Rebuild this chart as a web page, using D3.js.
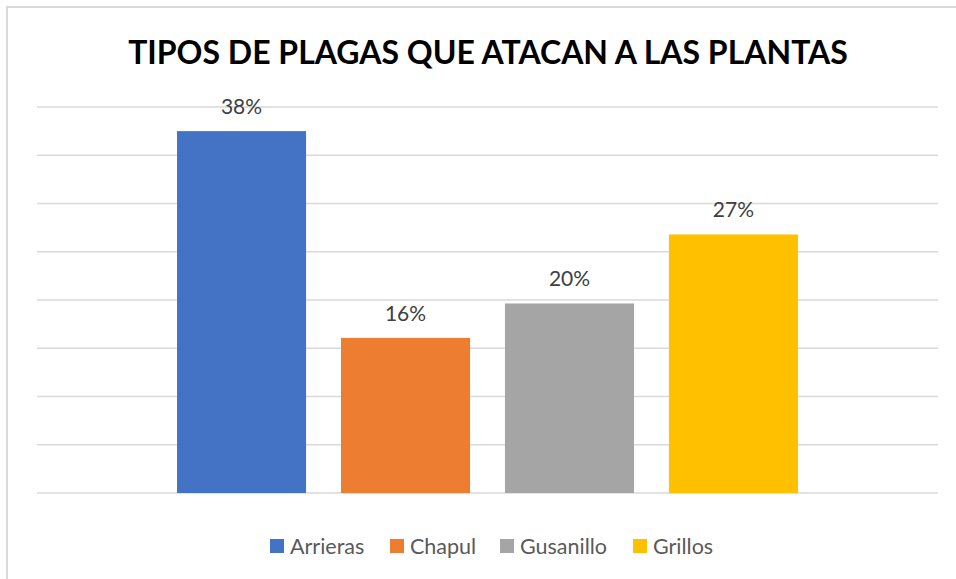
<!DOCTYPE html>
<html><head><meta charset="utf-8">
<script src="https://cdn.jsdelivr.net/npm/d3@7"></script>
<style>body{margin:0;background:#fff}svg{display:block}</style>
</head><body>
<svg id="c" width="956" height="579"></svg>
<script>
const categories = ["Arrieras", "Chapul", "Gusanillo", "Grillos"];
const values = [37.5, 16.07, 19.64, 26.79];
const labels = ["38%", "16%", "20%", "27%"];
const colors = ["#4472C4", "#ED7D31", "#A5A5A5", "#FFC000"];
const yTicks = [0, 5, 10, 15, 20, 25, 30, 35, 40];
const title = "TIPOS DE PLAGAS QUE ATACAN A LAS PLANTAS";

(function () {
const svg = d3.select("#c");
const font = "Lato, 'Open Sans', sans-serif";
svg.append("rect").attr("x", 7).attr("y", 7).attr("width", 960).attr("height", 600)
  .attr("fill", "#fff").attr("stroke", "#d9d9d9").attr("stroke-width", 2);

const pLeft = 37, pRight = 938, pTop = 107, pBottom = 493;
const y = d3.scaleLinear().domain([0, 40]).range([pBottom, pTop]);
const x = d3.scaleBand().domain(categories).range([pLeft, pRight]).paddingInner(0.213).paddingOuter(0.854);

svg.append("g").selectAll("line").data(yTicks).join("line")
  .attr("x1", pLeft).attr("x2", pRight)
  .attr("y1", d => y(d)).attr("y2", d => y(d))
  .attr("stroke", "#d9d9d9").attr("stroke-width", 1.5);

svg.append("g").selectAll("rect").data(categories).join("rect")
  .attr("x", d => x(d)).attr("width", x.bandwidth())
  .attr("y", (d, i) => y(values[i])).attr("height", (d, i) => y(0) - y(values[i]))
  .attr("fill", (d, i) => colors[i]);

svg.append("g").selectAll("text").data(categories).join("text")
  .attr("x", d => x(d) + x.bandwidth() / 2)
  .attr("y", (d, i) => y(values[i]) - 17)
  .attr("text-anchor", "middle").attr("font-family", font).attr("font-size", 21)
  .attr("fill", "#404040").text((d, i) => labels[i]);

svg.append("text").attr("x", 488).attr("y", 64).attr("text-anchor", "middle")
  .attr("font-family", font).attr("font-weight", "bold").attr("font-size", 32)
  .attr("fill", "#000").text(title);

const legX = [270, 390, 500, 633];
const lg = svg.append("g").selectAll("g").data(categories).join("g")
  .attr("transform", (d, i) => `translate(${legX[i]},546)`);
lg.append("rect").attr("x", 0).attr("y", -7).attr("width", 14).attr("height", 14)
  .attr("fill", (d, i) => colors[i]);
lg.append("text").attr("x", 20).attr("y", 7.5).attr("font-family", font).attr("font-size", 21.5)
  .attr("fill", "#595959").text(d => d);
})();
</script>
</body></html>
